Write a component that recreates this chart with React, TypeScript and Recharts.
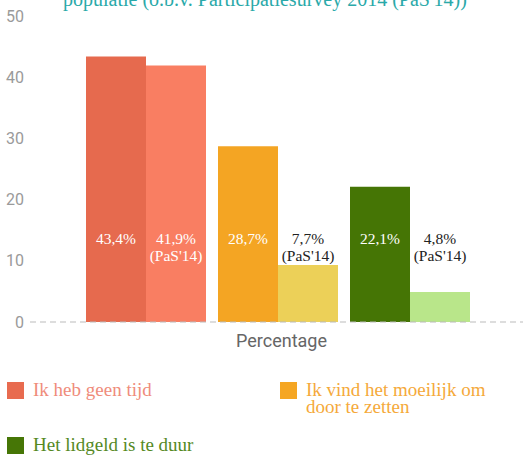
import React from "react";
import { BarChart, Bar, XAxis, YAxis, Cell, LabelList } from "recharts";

const groups = ["Ik heb geen tijd", "Ik vind het moeilijk om door te zetten", "Het lidgeld is te duur"];
const current = [43.4, 28.7, 22.1];
const pas = [41.9, 9.3, 4.9];
const currentLabels = ["43,4%", "28,7%", "22,1%"];
const pasLabels = ["41,9%", "7,7%", "4,8%"];
const yTicks = [0, 10, 20, 30, 40, 50];

const currentColors = ["#e66a4e", "#f4a523", "#457505"];
const pasColors = ["#f97e62", "#ecd058", "#b9e68a"];
const legendSquare = ["#e86b4f", "#f5a623", "#467606"];
const legendText = ["#ef8c7b", "#f5a93a", "#55891f"];

const data = groups.map((g, i) => ({
  name: g,
  current: current[i],
  pas: pas[i],
  curLabel: currentLabels[i],
  pasLabel: pasLabels[i],
}));

const serif = "'Liberation Serif', serif";

const makeLabel = (withPas: boolean) => (props: any) => {
  const { x, y, width, height, value } = props;
  const bottom = y + height;
  const cx = x + width / 2;
  const inside = height > 100;
  const fill = inside ? "#ffffff" : "#222222";
  return (
    <g>
      <text x={cx} y={bottom - 78} textAnchor="middle" fill={fill} fontFamily={serif} fontSize={15.5}>
        {value}
      </text>
      {withPas && (
        <text x={cx} y={bottom - 61} textAnchor="middle" fill={fill} fontFamily={serif} fontSize={15.5}>
          (PaS'14)
        </text>
      )}
    </g>
  );
};

export default function App() {
  return (
    <div style={{ position: "absolute", left: 0, top: 0, width: 523, height: 460, overflow: "hidden", background: "#fff" }}>
      <div
        style={{
          position: "absolute",
          left: 63,
          top: -11,
          fontFamily: serif,
          fontSize: 20,
          lineHeight: "20px",
          color: "#2aa9a9",
          whiteSpace: "nowrap",
        }}
      >
        populatie (o.b.v. Participatiesurvey 2014 (PaS'14))
      </div>
      <BarChart
        width={523}
        height={360}
        data={data}
        margin={{ top: 16, right: 0, bottom: 0, left: 0 }}
        barGap={0}
        barCategoryGap={6.5}
      >
        <XAxis
          dataKey="name"
          tick={false}
          tickLine={false}
          height={38}
          padding={{ left: 49.5, right: 47.5 }}
          axisLine={{ stroke: "#bbbbbb", strokeDasharray: "6 4" }}
          label={{ value: "Percentage", position: "insideTop", offset: 12, dx: 5, fill: "#666", fontFamily: "Roboto", fontSize: 18 }}
        />
        <YAxis
          domain={[0, 50]}
          ticks={yTicks}
          width={30}
          axisLine={false}
          tickLine={false}
          tickSize={0}
          tickMargin={6}
          tick={{ fill: "#9a9a9a", fontFamily: "Roboto", fontSize: 16 }}
        />
        <Bar dataKey="current" isAnimationActive={false}>
          {data.map((_, i) => (
            <Cell key={i} fill={currentColors[i]} />
          ))}
          <LabelList dataKey="curLabel" content={makeLabel(false)} />
        </Bar>
        <Bar dataKey="pas" isAnimationActive={false}>
          {data.map((_, i) => (
            <Cell key={i} fill={pasColors[i]} />
          ))}
          <LabelList dataKey="pasLabel" content={makeLabel(true)} />
        </Bar>
      </BarChart>
      {[
        { i: 0, left: 7, top: 382, text: "Ik heb geen tijd" },
        { i: 1, left: 280, top: 382, text: "Ik vind het moeilijk om door te zetten" },
        { i: 2, left: 7, top: 437, text: "Het lidgeld is te duur" },
      ].map((it) => (
        <div key={it.i} style={{ position: "absolute", left: it.left, top: it.top, display: "flex", alignItems: "flex-start" }}>
          <div style={{ width: 17, height: 17, background: legendSquare[it.i], flex: "none" }} />
          <div
            style={{
              marginLeft: 9,
              marginTop: -1,
              width: it.i === 1 ? 210 : 300,
              fontFamily: serif,
              fontSize: 19,
              lineHeight: "17px",
              color: legendText[it.i],
            }}
          >
            {groups[it.i]}
          </div>
        </div>
      ))}
    </div>
  );
}
